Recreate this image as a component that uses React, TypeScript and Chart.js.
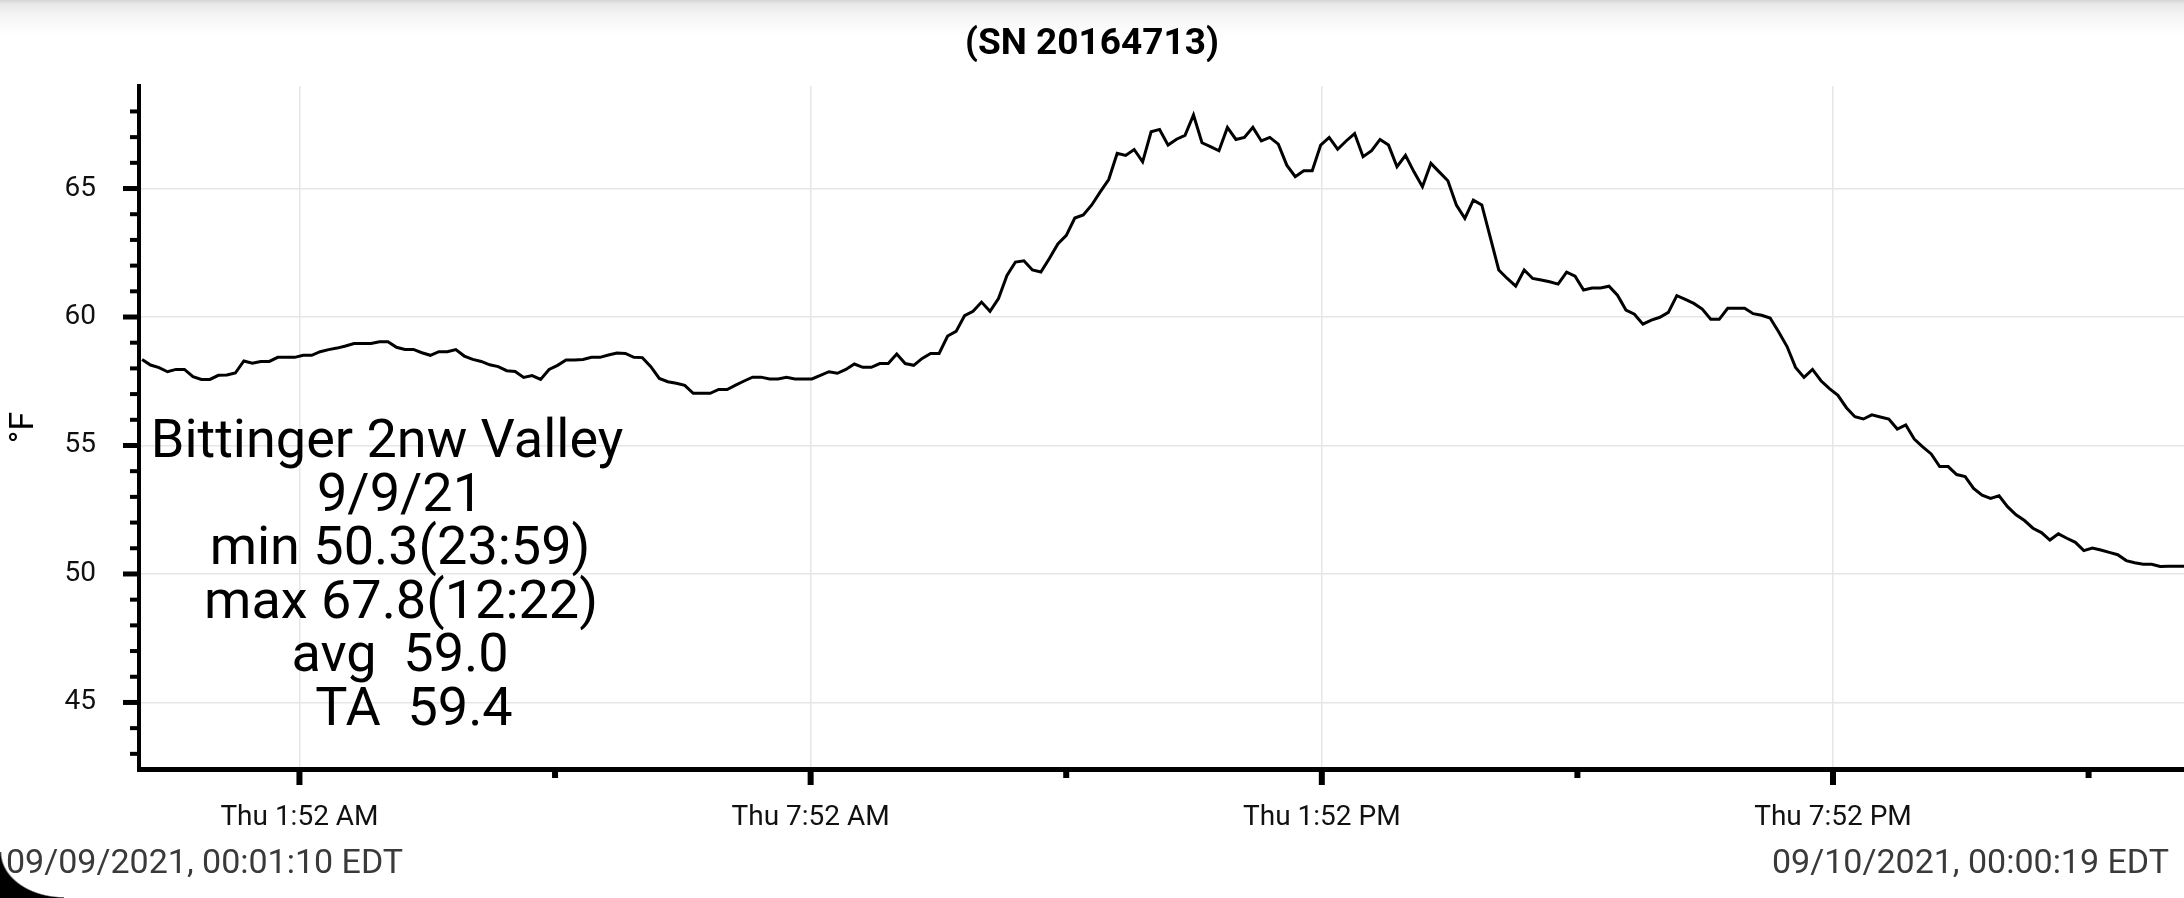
import React, { useEffect, useRef } from 'react';
import { Chart, registerables } from 'chart.js';

Chart.register(...registerables);

// ---------- data ----------
const TITLE = '(SN 20164713)';
const Y_TITLE = '°F';
const START_LABEL = '09/09/2021, 00:01:10 EDT';
const END_LABEL = '09/10/2021, 00:00:19 EDT';
// minutes after midnight of 09/09
const START_MIN = 1 + 10 / 60;
const END_MIN = 24 * 60 + 19 / 60;
const X_MIN = -1;
const X_MAX = 1439.2;
const Y_MIN = 42.41;
const Y_MAX = 68.99;

const X_TICK_VALUES = [112, 292, 472, 652, 832, 1012, 1192, 1372];
const X_TICK_LABELS = ['Thu 1:52 AM', '', 'Thu 7:52 AM', '', 'Thu 1:52 PM', '', 'Thu 7:52 PM', ''];
const Y_TICK_VALUES = [43, 44, 45, 46, 47, 48, 49, 50, 51, 52, 53, 54, 55, 56, 57, 58, 59, 60, 61, 62, 63, 64, 65, 66, 67, 68];
const Y_LABELED = [45, 50, 55, 60, 65];

const INFO_LINES = ['Bittinger 2nw Valley', '9/9/21', 'min 50.3(23:59)', 'max 67.8(12:22)', 'avg  59.0', 'TA  59.4'];

const TEMPS = [
  58.35, 58.13, 58.03, 57.87, 57.96, 57.96, 57.68, 57.57, 57.57, 57.73,
  57.74, 57.82, 58.29, 58.2, 58.27, 58.27, 58.43, 58.43, 58.43, 58.51,
  58.51, 58.65, 58.73, 58.79, 58.87, 58.97, 58.97, 58.97, 59.04, 59.04,
  58.82, 58.74, 58.74, 58.61, 58.51, 58.65, 58.65, 58.73, 58.48, 58.35,
  58.27, 58.14, 58.07, 57.91, 57.88, 57.65, 57.72, 57.57, 57.96, 58.12,
  58.33, 58.33, 58.35, 58.43, 58.43, 58.52, 58.6, 58.58, 58.43, 58.42,
  58.07, 57.61,
  57.48, 57.42, 57.34, 57.03, 57.03, 57.03, 57.18, 57.18,
  57.35, 57.51, 57.66, 57.66, 57.59, 57.59, 57.65, 57.59, 57.59, 57.59,
  57.73, 57.87, 57.81, 57.96, 58.17, 58.04, 58.04, 58.19, 58.19, 58.56,
  58.19, 58.12, 58.39, 58.58, 58.58, 59.26, 59.44, 60.05, 60.22, 60.58,
  60.22, 60.72, 61.62, 62.14, 62.19, 61.83, 61.75, 62.28, 62.84, 63.18,
  63.85, 63.97, 64.36, 64.87, 65.35, 66.37, 66.29, 66.52, 66.04, 67.21, 67.3,
  66.69, 66.92, 67.07, 67.86, 66.78, 66.63, 66.47, 67.38, 66.91, 66.99,
  67.38, 66.85, 66.99, 66.73, 65.91, 65.46, 65.69, 65.69, 66.69, 66.99,
  66.53, 66.85, 67.14, 66.24, 66.47, 66.91, 66.69, 65.85, 66.29, 65.65,
  65.07, 65.98, 65.64, 65.3, 64.36, 63.84, 64.55, 64.36, 63.1, 61.83,
  61.5, 61.2, 61.83, 61.5, 61.44, 61.37, 61.28, 61.75, 61.59, 61.05,
  61.13, 61.13, 61.2, 60.85, 60.27, 60.11, 59.72, 59.88, 59.99,
  60.18, 60.83, 60.69, 60.53, 60.31, 59.91, 59.91, 60.34, 60.34,
  60.34, 60.13, 60.07, 59.96, 59.43, 58.85, 58.04, 57.65, 57.96, 57.52,
  57.21, 56.95, 56.47, 56.12, 56.03, 56.19, 56.11, 56.03, 55.64, 55.8,
  55.25, 54.95, 54.67, 54.18, 54.18, 53.87, 53.79, 53.33, 53.07,
  52.94, 53.04, 52.62, 52.3, 52.08, 51.78, 51.61, 51.32, 51.56, 51.39,
  51.23, 50.91, 51.01, 50.93, 50.84, 50.75, 50.52, 50.44, 50.38, 50.38, 50.29,
  50.3, 50.3, 50.3,
];

// ---------- styles ----------
const W = 2184;
const H = 898;
const GRID = '#e6e6e6';
const FONT = 'Roboto';
const INFO_X = [387, 400, 400, 401, 400, 414];
const INFO_BASE = 457;
const INFO_STEP = 53.6;

const extras = {
  id: 'extras',
  afterDraw(chart: any) {
    const { ctx, chartArea, scales } = chart;
    const xs = scales.x;
    const ys = scales.y;
    ctx.save();
    ctx.fillStyle = '#000';
    // y tick marks
    Y_TICK_VALUES.forEach((v) => {
      const py = ys.getPixelForValue(v);
      const major = Y_LABELED.includes(v);
      const len = major ? 16 : 9;
      const w = major ? 5 : 4;
      ctx.fillRect(chartArea.left - len, py - w / 2, len, w);
    });
    // x tick marks
    X_TICK_VALUES.forEach((v, i) => {
      const px = xs.getPixelForValue(v);
      const major = X_TICK_LABELS[i] !== '';
      const len = major ? 16 : 9;
      const w = 6;
      ctx.fillRect(px - w / 2, chartArea.bottom, w, len);
    });
    // info block
    ctx.font = `54px ${FONT}`;
    ctx.textAlign = 'center';
    ctx.textBaseline = 'alphabetic';
    ctx.fillStyle = '#000';
    INFO_LINES.forEach((line, i) => {
      ctx.fillText(line, INFO_X[i], INFO_BASE + i * INFO_STEP);
    });
    // footer timestamps
    ctx.font = `34px ${FONT}`;
    ctx.fillStyle = '#3a3a3a';
    ctx.textAlign = 'left';
    ctx.fillText(START_LABEL, 6, 873);
    ctx.textAlign = 'right';
    ctx.fillText(END_LABEL, 2169, 873);
    ctx.restore();
  },
};

export default function App() {
  const ref = useRef<HTMLCanvasElement | null>(null);

  useEffect(() => {
    if (!ref.current) return;
    const step = (END_MIN - START_MIN) / (TEMPS.length - 1);
    const points = TEMPS.map((v, i) => ({ x: START_MIN + i * step, y: v }));
    const chart = new Chart(ref.current, {
      type: 'line',
      data: {
        datasets: [
          {
            data: points,
            borderColor: '#000',
            borderWidth: 3,
            pointRadius: 0,
            tension: 0,
            fill: false,
          },
        ],
      },
      options: {
        animation: false,
        responsive: false,
        devicePixelRatio: 1,
        layout: { padding: 0 },
        plugins: {
          legend: { display: false },
          tooltip: { enabled: false },
          title: {
            display: true,
            text: TITLE,
            color: '#000',
            font: { family: FONT, size: 37, weight: 'bold', lineHeight: 1.2 },
            padding: { top: 23, bottom: 18.6 },
          },
        },
        scales: {
          x: {
            type: 'linear',
            min: X_MIN,
            max: X_MAX,
            afterBuildTicks: (s: any) => {
              s.ticks = X_TICK_VALUES.map((v) => ({ value: v }));
            },
            afterFit: (s: any) => {
              s.height = 129;
            },
            ticks: {
              autoSkip: false,
              maxRotation: 0,
              minRotation: 0,
              padding: 32,
              color: '#111',
              font: { family: FONT, size: 28 },
              callback: (_v: any, i: number) => X_TICK_LABELS[i],
            },
            grid: {
              drawTicks: false,
              lineWidth: 1.5,
              color: (c: any) => (X_TICK_LABELS[c.index] ? GRID : 'rgba(0,0,0,0)'),
            },
            border: { display: true, color: '#000', width: 5 },
          },
          y: {
            type: 'linear',
            min: Y_MIN,
            max: Y_MAX,
            afterBuildTicks: (s: any) => {
              s.ticks = Y_TICK_VALUES.map((v) => ({ value: v }));
            },
            afterFit: (s: any) => {
              s.width = 139;
            },
            ticks: {
              autoSkip: false,
              padding: 43,
              color: '#111',
              font: { family: FONT, size: 28 },
              callback: (v: any) => (Y_LABELED.includes(Number(v)) ? String(v) : ''),
            },
            grid: {
              drawTicks: false,
              lineWidth: 1.5,
              color: (c: any) => (c.tick && Y_LABELED.includes(c.tick.value) ? GRID : 'rgba(0,0,0,0)'),
            },
            border: { display: true, color: '#000', width: 4 },
            title: {
              display: true,
              text: Y_TITLE,
              color: '#000',
              font: { family: FONT, size: 34, lineHeight: 1.2 },
              padding: 4,
            },
          },
        },
      },
      plugins: [extras],
    });
    return () => chart.destroy();
  }, []);

  return (
    <div style={{ position: 'fixed', left: 0, top: 0, width: W, height: H, background: '#fff', overflow: 'hidden' }}>
      <div
        style={{
          position: 'absolute',
          left: 0,
          top: 0,
          width: W,
          height: 36,
          background: 'linear-gradient(to bottom, #d4d4d4 0px, #e9e9e9 4px, #f5f5f5 16px, #ffffff 36px)',
        }}
      />
      <canvas ref={ref} width={W} height={H} style={{ position: 'absolute', left: 0, top: 0, width: W, height: H }} />
      <div
        style={{
          position: 'absolute',
          left: 0,
          top: 852,
          width: 64,
          height: 46,
          background: 'radial-gradient(64px 46px at 100% 0%, rgba(0,0,0,0) 97%, #000 100%)',
        }}
      />
    </div>
  );
}
